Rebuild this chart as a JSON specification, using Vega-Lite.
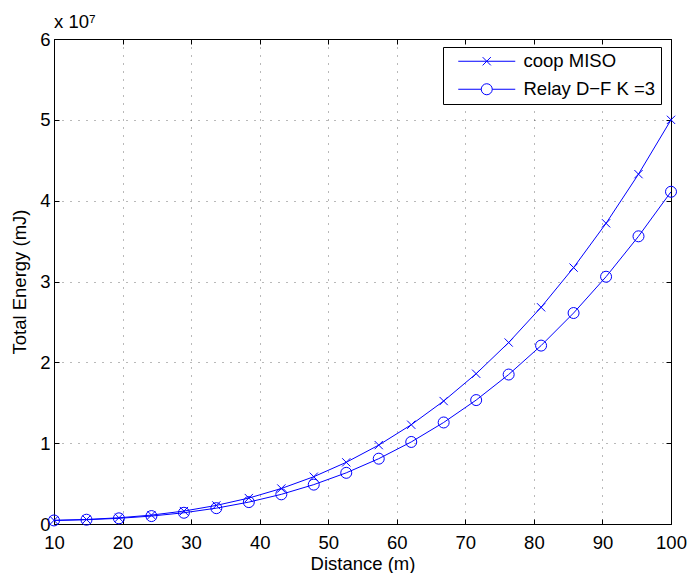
{
  "$schema": "https://vega.github.io/schema/vega-lite/v6.json",
  "autosize": {"type": "none"},
  "width": 617,
  "height": 485,
  "padding": {"left": 54, "top": 39, "right": 17, "bottom": 49},
  "background": "white",
  "config": {
    "font": "Liberation Sans, Arial, Helvetica, sans-serif",
    "view": {"stroke": "black", "strokeWidth": 1},
    "axis": {
      "labelFont": "Liberation Sans, Arial, Helvetica, sans-serif",
      "titleFont": "Liberation Sans, Arial, Helvetica, sans-serif",
      "labelFontSize": 18.5,
      "titleFontSize": 18.5,
      "titleFontWeight": "normal",
      "labelColor": "black",
      "titleColor": "black",
      "tickColor": "black",
      "tickWidth": 1,
      "tickSize": -5,
      "ticks": true,
      "domain": false,
      "labelFlush": false,
      "labelOverlap": false,
      "minExtent": 0,
      "gridColor": "#000000",
      "gridOpacity": 0.55,
      "gridDash": [1, 7],
      "gridWidth": 1
    }
  },
  "title": {
    "text": "x 10⁷",
    "anchor": "start",
    "frame": "group",
    "fontSize": 18.5,
    "fontWeight": "normal",
    "baseline": "alphabetic",
    "offset": 11,
    "dy": 27,
    "color": "black"
  },
  "data": {
    "values": [
      {"d": 10, "series": "coop MISO", "v": 450000},
      {"d": 14.74, "series": "coop MISO", "v": 560000},
      {"d": 19.47, "series": "coop MISO", "v": 770000},
      {"d": 24.21, "series": "coop MISO", "v": 1100000},
      {"d": 28.95, "series": "coop MISO", "v": 1600000},
      {"d": 33.68, "series": "coop MISO", "v": 2300000},
      {"d": 38.42, "series": "coop MISO", "v": 3210000},
      {"d": 43.16, "series": "coop MISO", "v": 4390000},
      {"d": 47.89, "series": "coop MISO", "v": 5850000},
      {"d": 52.63, "series": "coop MISO", "v": 7630000},
      {"d": 57.37, "series": "coop MISO", "v": 9760000},
      {"d": 62.11, "series": "coop MISO", "v": 12280000},
      {"d": 66.84, "series": "coop MISO", "v": 15210000},
      {"d": 71.58, "series": "coop MISO", "v": 18590000},
      {"d": 76.32, "series": "coop MISO", "v": 22450000},
      {"d": 81.05, "series": "coop MISO", "v": 26810000},
      {"d": 85.79, "series": "coop MISO", "v": 31720000},
      {"d": 90.53, "series": "coop MISO", "v": 37200000},
      {"d": 95.26, "series": "coop MISO", "v": 43280000},
      {"d": 100, "series": "coop MISO", "v": 50000000},
      {"d": 10, "series": "Relay D−F K =3", "v": 440000},
      {"d": 14.74, "series": "Relay D−F K =3", "v": 530000},
      {"d": 19.47, "series": "Relay D−F K =3", "v": 700000},
      {"d": 24.21, "series": "Relay D−F K =3", "v": 980000},
      {"d": 28.95, "series": "Relay D−F K =3", "v": 1390000},
      {"d": 33.68, "series": "Relay D−F K =3", "v": 1960000},
      {"d": 38.42, "series": "Relay D−F K =3", "v": 2710000},
      {"d": 43.16, "series": "Relay D−F K =3", "v": 3670000},
      {"d": 47.89, "series": "Relay D−F K =3", "v": 4870000},
      {"d": 52.63, "series": "Relay D−F K =3", "v": 6330000},
      {"d": 57.37, "series": "Relay D−F K =3", "v": 8080000},
      {"d": 62.11, "series": "Relay D−F K =3", "v": 10150000},
      {"d": 66.84, "series": "Relay D−F K =3", "v": 12560000},
      {"d": 71.58, "series": "Relay D−F K =3", "v": 15330000},
      {"d": 76.32, "series": "Relay D−F K =3", "v": 18490000},
      {"d": 81.05, "series": "Relay D−F K =3", "v": 22070000},
      {"d": 85.79, "series": "Relay D−F K =3", "v": 26100000},
      {"d": 90.53, "series": "Relay D−F K =3", "v": 30590000},
      {"d": 95.26, "series": "Relay D−F K =3", "v": 35590000},
      {"d": 100, "series": "Relay D−F K =3", "v": 41100000}
    ]
  },
  "layer": [
    {
      "mark": {"type": "line", "color": "#0000ff", "strokeWidth": 1, "clip": true},
      "encoding": {
        "x": {"field": "d", "type": "quantitative", "scale": {"domain": [10, 100], "nice": false, "zero": false},
          "axis": {"orient": "bottom", "values": [10, 20, 30, 40, 50, 60, 70, 80, 90, 100], "title": "Distance (m)", "grid": true, "tickSize": -5, "labelPadding": 14, "titlePadding": 3}},
        "y": {"field": "v", "type": "quantitative", "scale": {"domain": [0, 60000000], "nice": false, "zero": false},
          "axis": {"orient": "left", "values": [0, 10000000, 20000000, 30000000, 40000000, 50000000, 60000000], "labelExpr": "datum.value / 10000000", "title": "Total Energy (mJ)", "grid": true, "tickSize": -5, "labelPadding": 9, "titlePadding": 10}},
        "detail": {"field": "series"}
      }
    },
    {
      "mark": {"type": "point", "filled": false, "stroke": "#0000ff", "strokeWidth": 1, "size": 121, "opacity": 1},
      "encoding": {
        "x": {"field": "d", "type": "quantitative", "scale": {"domain": [10, 100], "nice": false, "zero": false}, "axis": null},
        "y": {"field": "v", "type": "quantitative", "scale": {"domain": [0, 60000000], "nice": false, "zero": false}, "axis": null},
        "shape": {"field": "series", "type": "nominal",
          "scale": {"domain": ["coop MISO", "Relay D−F K =3"], "range": ["M-0.75,-0.75L0.75,0.75M-0.75,0.75L0.75,-0.75", "M1,0A1,1 0 1,1 -1,0A1,1 0 1,1 1,0"]},
          "legend": null}
      }
    },
    {
      "mark": {"type": "point", "filled": false, "stroke": "#0000ff", "strokeWidth": 1, "opacity": 0},
      "encoding": {
        "x": {"field": "d", "type": "quantitative", "scale": {"domain": [10, 100], "nice": false, "zero": false},
          "axis": {"orient": "top", "values": [10, 20, 30, 40, 50, 60, 70, 80, 90, 100], "labels": false, "title": null, "grid": false, "tickSize": -5}},
        "y": {"field": "v", "type": "quantitative", "scale": {"domain": [0, 60000000], "nice": false, "zero": false},
          "axis": {"orient": "right", "values": [0, 10000000, 20000000, 30000000, 40000000, 50000000, 60000000], "labels": false, "title": null, "grid": false, "tickSize": -5}},
        "shape": {"field": "series", "type": "nominal",
          "scale": {"domain": ["coop MISO", "Relay D−F K =3"], "range": ["M0.167,0H9.667M4.23,-0.69L5.6,0.69M4.23,0.69L5.6,-0.69", "M5.837,0A0.92,0.92 0 1,1 3.997,0A0.92,0.92 0 1,1 5.837,0M0.167,0H3.997M5.837,0H9.667"]},
          "legend": {
            "title": null,
            "orient": "none",
            "legendX": 389,
            "legendY": 8,
            "padding": 5,
            "rowPadding": 9,
            "strokeColor": "black",
            "fillColor": "white",
            "symbolSize": 144,
            "symbolStrokeColor": "#0000ff",
            "symbolFillColor": "transparent",
            "symbolStrokeWidth": 1,
            "symbolOpacity": 1,
            "labelOffset": 57,
            "labelFontSize": 18.5,
            "labelColor": "black",
            "labelLimit": 400
          }}
      }
    }
  ],
  "resolve": {
    "scale": {"shape": "independent", "x": "independent", "y": "independent"},
    "axis": {"x": "independent", "y": "independent"}
  }
}
